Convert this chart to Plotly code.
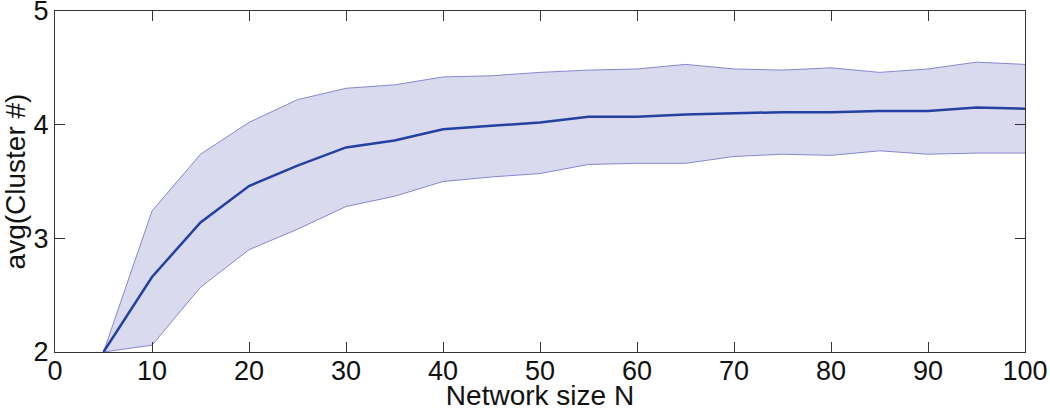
import plotly.graph_objects as go

network_size = [5, 10, 15, 20, 25, 30, 35, 40, 45, 50, 55, 60, 65, 70, 75, 80, 85, 90, 95, 100]
mean_clusters = [2.00, 2.66, 3.14, 3.46, 3.64, 3.80, 3.86, 3.96, 3.99, 4.02, 4.07, 4.07, 4.09, 4.10, 4.11, 4.11, 4.12, 4.12, 4.15, 4.14]
upper_band = [2.00, 3.24, 3.74, 4.02, 4.22, 4.32, 4.35, 4.42, 4.43, 4.46, 4.48, 4.49, 4.53, 4.49, 4.48, 4.50, 4.46, 4.49, 4.55, 4.53]
lower_band = [2.00, 2.06, 2.57, 2.90, 3.08, 3.28, 3.37, 3.50, 3.54, 3.57, 3.65, 3.66, 3.66, 3.72, 3.74, 3.73, 3.77, 3.74, 3.75, 3.75]
x_ticks = [0, 10, 20, 30, 40, 50, 60, 70, 80, 90, 100]
y_ticks = [2, 3, 4, 5]

fig = go.Figure()
fig.add_trace(go.Scatter(x=network_size, y=lower_band, mode="lines",
                         line=dict(color="rgb(135,135,205)", width=1), showlegend=False))
fig.add_trace(go.Scatter(x=network_size, y=upper_band, mode="lines", fill="tonexty",
                         fillcolor="rgba(218,218,238,1)",
                         line=dict(color="rgb(135,135,205)", width=1), showlegend=False))
fig.add_trace(go.Scatter(x=network_size, y=mean_clusters, mode="lines",
                         line=dict(color="rgb(35,65,160)", width=2.5), showlegend=False))

tick_font = dict(family="Liberation Sans, Arial, sans-serif", size=27, color="#111")
title_font = dict(family="Liberation Sans, Arial, sans-serif", size=28, color="#111")
axis_common = dict(showgrid=False, zeroline=False, showline=True, linecolor="#333", linewidth=1.2,
                   mirror="allticks", ticks="inside", ticklen=10, tickcolor="#333", tickwidth=1.2,
                   tickfont=tick_font, automargin=False, ticklabeloverflow="allow")
fig.update_xaxes(range=[0, 100], tickvals=x_ticks, **axis_common, ticklabelstandoff=-6,
                 title=dict(text="Network size N", font=title_font, standoff=12))
fig.update_yaxes(range=[2, 5], tickvals=y_ticks, **axis_common,
                 title=dict(text="avg(Cluster #)", font=title_font, standoff=2))
fig.update_layout(width=1050, height=411, plot_bgcolor="white", paper_bgcolor="white",
                  margin=dict(l=55, r=25, t=11, b=59))
fig.write_html("out.html", config={"displayModeBar": False},
               post_script="document.body.style.margin='0';")
